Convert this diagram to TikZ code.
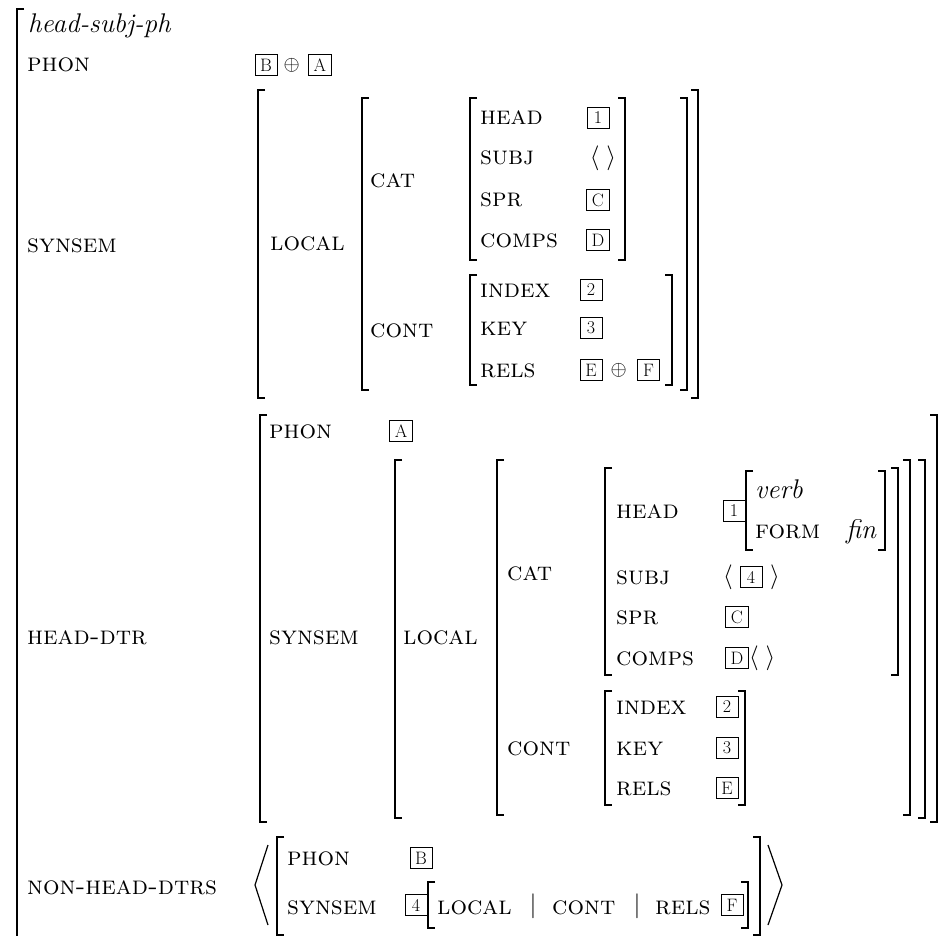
\documentclass[tikz,border=0pt]{standalone}
\usepackage{fontspec}
\usepackage{amsmath,amssymb}
\usetikzlibrary{positioning}

\tikzset{
  attr/.style={anchor=base west, inner sep=0pt, font=\fontsize{26}{30}\selectfont\scshape},
  sortname/.style={anchor=base west, inner sep=0pt, font=\fontsize{27}{30}\selectfont\itshape},
  tagbox/.style={draw, line width=1pt, inner xsep=5pt, inner ysep=2pt, minimum width=22pt, minimum height=21pt, font=\fontsize{18}{20}\selectfont},
  sym/.style={inner sep=0pt, font=\fontsize{26}{30}\selectfont},
  osym/.style={inner sep=0pt, font=\fontsize{22}{24}\selectfont},
  brk/.style={line width=1.5pt},
}
\newcommand{\lbr}[3]{\draw[brk] (#1+7,#2) -- (#1,#2) -- (#1,#3) -- (#1+7,#3);}
\newcommand{\rbr}[3]{\draw[brk] (#1-7,#2) -- (#1,#2) -- (#1,#3) -- (#1-7,#3);}

\begin{document}
\begin{tikzpicture}[x=1pt,y=-1pt]
\useasboundingbox (0,0) rectangle (939,936);

% outer matrix
\draw[brk] (24,9) -- (17,9) -- (17,940);
\node[sortname] (type) at (28,33) {head-subj-ph};

% PHON
\node[attr] (phon) at (27,72) {phon};
\node[tagbox] (phonB) at (266,65) {B};
\node[osym, right=6pt of phonB] (phonPlus) {$\oplus$};
\node[tagbox, right=8pt of phonPlus] (phonA) {A};

% SYNSEM
\node[attr] (synsem) at (27,252) {synsem};
\lbr{258}{90}{398} \rbr{698}{90}{398}
\node[attr] (local) at (270,250) {local};
\lbr{362}{98}{390} \rbr{687}{98}{390}
\node[attr] (cat) at (370,187) {cat};
\lbr{470}{98}{260} \rbr{625}{98}{260}
\node[attr] (head) at (480,125) {head};
\node[tagbox] (headT) at (598,118) {1};
\node[attr] (subj) at (480,165) {subj};
\node[sym] (subjV) at (603,158) {$\langle\;\rangle$};
\node[attr] (spr) at (480,207) {spr};
\node[tagbox] (sprT) at (598,200) {C};
\node[attr] (comps) at (480,247) {comps};
\node[tagbox] (compsT) at (598,240) {D};
\node[attr] (cont) at (370,337) {cont};
\lbr{470}{275}{385} \rbr{672}{275}{385}
\node[attr] (index) at (480,297) {index};
\node[tagbox] (indexT) at (591,290) {2};
\node[attr] (key) at (480,335) {key};
\node[tagbox] (keyT) at (591,328) {3};
\node[attr] (rels) at (480,377) {rels};
\node[tagbox] (relsE) at (591,370) {E};
\node[osym, right=8pt of relsE] (relsPlus) {$\oplus$};
\node[tagbox, right=10pt of relsPlus] (relsF) {F};

% HEAD-DTR
\node[attr] (hdtr) at (27,644) {head-dtr};
\lbr{260}{415}{822} \rbr{937}{415}{822}
\node[attr] (hphon) at (269,438) {phon};
\node[tagbox] (hphonT) at (401,431) {A};
\node[attr] (hsynsem) at (269,644) {synsem};
\lbr{395}{460}{818} \rbr{925}{460}{818}
\node[attr] (hlocal) at (403,644) {local};
\lbr{497}{460}{815} \rbr{910}{460}{815}
\node[attr] (hcat) at (507,580) {cat};
\lbr{605}{468}{675} \rbr{898}{468}{675}
\node[attr] (hhead) at (616,518) {head};
\node[tagbox] (hheadT) at (734,511) {1};
\lbr{746}{471}{550} \rbr{885}{471}{550}
\node[sortname] (verb) at (755,498) {verb};
\node[attr] (form) at (755,538) {form};
\node[sortname] (fin) at (846,538) {fin};
\node[attr] (hsubj) at (616,584) {subj};
\node[sym] (hsubjL) at (728,577) {$\langle$};
\node[tagbox] (hsubjT) at (751,577) {4};
\node[sym] (hsubjR) at (775,577) {$\rangle$};
\node[attr] (hspr) at (616,624) {spr};
\node[tagbox] (hsprT) at (737,617) {C};
\node[attr] (hcomps) at (616,665) {comps};
\node[tagbox] (hcompsT) at (737,658) {D};
\node[sym, right=0pt of hcompsT] (hcompsV) {$\langle\;\rangle$};
\node[attr] (hcont) at (507,755) {cont};
\lbr{605}{691}{805} \rbr{745}{691}{805}
\node[attr] (hindex) at (616,714) {index};
\node[tagbox] (hindexT) at (727,707) {2};
\node[attr] (hkey) at (616,755) {key};
\node[tagbox] (hkeyT) at (727,748) {3};
\node[attr] (hrels) at (616,795) {rels};
\node[tagbox] (hrelsT) at (727,788) {E};

% NON-HEAD-DTRS
\node[attr] (nhdtrs) at (27,894) {non-head-dtrs};
\draw[line width=1.2pt] (268,845) -- (255,885) -- (268,925);
\draw[line width=1.2pt] (768,845) -- (782,885) -- (768,925);
\lbr{277}{837}{935} \rbr{760}{837}{935}
\node[attr] (nphon) at (287,865) {phon};
\node[tagbox] (nphonT) at (421,858) {B};
\node[attr] (nsynsem) at (287,914) {synsem};
\node[tagbox] (nsynsemT) at (416,905) {4};
\lbr{428}{882}{928} \rbr{748}{882}{928}
\node[attr] (nlocal) at (437,914) {local};
\node[sym] (bar1) at (533,906) {$|$};
\node[attr] (ncont) at (552,914) {cont};
\node[sym] (bar2) at (637,906) {$|$};
\node[attr] (nrels) at (655,914) {rels};
\node[tagbox] (nrelsT) at (732,905) {F};

\end{tikzpicture}
\end{document}
